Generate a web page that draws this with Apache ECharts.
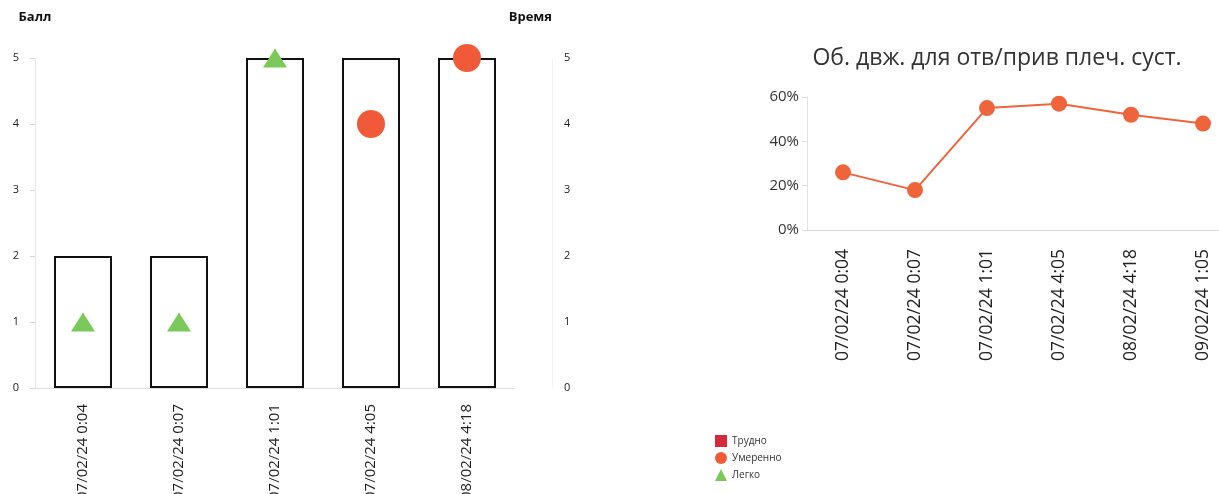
<!DOCTYPE html>
<html>
<head>
<meta charset="utf-8">
<script src="https://cdn.jsdelivr.net/npm/echarts@6/dist/echarts.min.js"></script>
<style>
  html, body { margin: 0; padding: 0; background: #fff; }
  #chart { width: 1219px; height: 494px; }
</style>
</head>
<body>
<div id="chart"></div>
<script>
// Session scores (left panel)
const scoreCategories = ['07/02/24 0:04', '07/02/24 0:07', '07/02/24 1:01', '07/02/24 4:05', '08/02/24 4:18'];
const timeValues = [2, 2, 5, 5, 5];
const hardValues = [null, null, null, null, null];
const moderateValues = [null, null, null, 4, 5];
const easyValues = [1, 1, 5, null, null];
const scoreTicks = [0, 1, 2, 3, 4, 5];

// Range of motion (right panel)
const romTitle = 'Об. двж. для отв/прив плеч. суст.';
const romCategories = ['07/02/24 0:04', '07/02/24 0:07', '07/02/24 1:01', '07/02/24 4:05', '08/02/24 4:18', '09/02/24 1:05'];
const romValues = [26, 18, 55, 57, 52, 48];

const legendNames = ['Трудно', 'Умеренно', 'Легко'];

const FONT = '"Open Sans", "Noto Sans", sans-serif';
const faint = '#d6d6d6';

const chart = echarts.init(document.getElementById('chart'), null, { renderer: 'canvas' });

chart.setOption({
  backgroundColor: '#fff',
  animation: false,
  textStyle: { fontFamily: FONT },
  title: {
    text: romTitle,
    left: 992, top: 42,
    textAlign: 'center',
    textStyle: { fontSize: 23, fontWeight: 'normal', color: '#333', fontFamily: FONT }
  },
  legend: {
    data: legendNames,
    orient: 'vertical',
    left: 710, top: 430,
    itemWidth: 12, itemHeight: 12, itemGap: 5,
    textStyle: { fontSize: 10, color: '#333', fontFamily: FONT }
  },
  grid: [
    { left: 35, top: 58, width: 480, bottom: 106, outerBoundsMode: 'none' },
    // the plot runs past the right edge of the canvas
    { left: 807, top: 97, width: 432, bottom: 264, outerBoundsMode: 'none' }
  ],
  xAxis: [
    {
      type: 'category', gridIndex: 0, data: scoreCategories,
      axisLine: { lineStyle: { color: faint, type: 'dotted' } },
      axisTick: { alignWithLabel: true, lineStyle: { color: faint } },
      axisLabel: { rotate: 90, margin: 16, fontSize: 15, color: '#222', fontFamily: FONT }
    },
    {
      type: 'category', gridIndex: 1, data: romCategories,
      axisLine: { lineStyle: { color: '#cfcfcf', type: 'dotted' } },
      axisTick: { alignWithLabel: true, lineStyle: { color: '#cfcfcf' } },
      axisLabel: { rotate: 90, margin: 19, fontSize: 17.5, color: '#222', fontFamily: FONT }
    }
  ],
  yAxis: [
    {
      type: 'value', gridIndex: 0, min: scoreTicks[0], max: scoreTicks[scoreTicks.length - 1], interval: 1,
      name: 'Балл', nameLocation: 'end', nameGap: 34,
      nameTextStyle: { fontSize: 13, fontWeight: 'bold', color: '#111', align: 'center', fontFamily: FONT },
      axisLine: { show: true, lineStyle: { color: '#e2e2e2', type: 'dotted' } },
      axisTick: { show: true, lineStyle: { color: faint } },
      axisLabel: { margin: 16, fontSize: 11, color: '#222', fontFamily: FONT },
      splitLine: { show: false }
    },
    {
      type: 'value', gridIndex: 0, position: 'right', offset: 37,
      min: scoreTicks[0], max: scoreTicks[scoreTicks.length - 1], interval: 1,
      name: 'Время', nameLocation: 'end', nameGap: 34,
      nameTextStyle: { fontSize: 13, fontWeight: 'bold', color: '#111', align: 'right', fontFamily: FONT },
      axisLine: { show: true, lineStyle: { color: '#eeeeee', type: 'dotted' } },
      axisTick: { show: false },
      axisLabel: { margin: 12, fontSize: 11, color: '#222', fontFamily: FONT },
      splitLine: { show: false }
    },
    {
      type: 'value', gridIndex: 1, min: 0, max: 60, interval: 20,
      axisLine: { show: true, lineStyle: { color: '#dcdcdc', type: 'dotted' } },
      axisTick: { show: true, lineStyle: { color: '#dcdcdc' } },
      axisLabel: { margin: 8, fontSize: 15, color: '#333', fontFamily: FONT, formatter: '{value}%' },
      splitLine: { show: false }
    }
  ],
  series: [
    {
      name: 'Время', type: 'bar', xAxisIndex: 0, yAxisIndex: 1,
      data: timeValues, barWidth: 58,
      itemStyle: { color: '#fff', borderColor: '#111', borderWidth: 2 },
      z: 1
    },
    {
      name: 'Трудно', type: 'scatter', xAxisIndex: 0, yAxisIndex: 0,
      data: hardValues, symbol: 'rect', symbolSize: 14,
      itemStyle: { color: '#d8283c', opacity: 1 }, z: 3
    },
    {
      name: 'Умеренно', type: 'scatter', xAxisIndex: 0, yAxisIndex: 0,
      data: moderateValues, symbol: 'circle', symbolSize: 28,
      itemStyle: { color: '#f05a38', opacity: 1 }, z: 3
    },
    {
      name: 'Легко', type: 'scatter', xAxisIndex: 0, yAxisIndex: 0,
      data: easyValues, symbol: 'triangle', symbolSize: [24, 19],
      itemStyle: { color: '#7cc95b', opacity: 1 }, z: 3
    },
    {
      name: romTitle, type: 'line', xAxisIndex: 1, yAxisIndex: 2,
      data: romValues, symbol: 'circle', symbolSize: 16,
      lineStyle: { color: '#f0643c', width: 2 },
      itemStyle: { color: '#f0643c' }, z: 3
    }
  ]
});
</script>
</body>
</html>
